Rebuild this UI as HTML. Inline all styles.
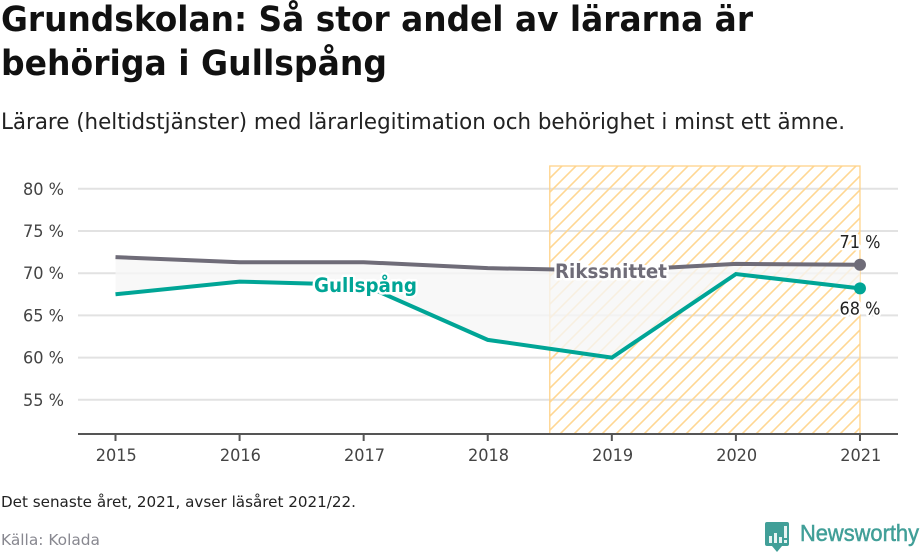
<!DOCTYPE html>
<html lang="sv">
<head>
<meta charset="utf-8">
<title>Grundskolan: Så stor andel av lärarna är behöriga i Gullspång</title>
<style>
html,body{margin:0;padding:0;background:#fff;}
svg{display:block;font-family:"DejaVu Sans","Liberation Sans",sans-serif;}
</style>
</head>
<body>
<svg id="chart" width="920" height="552" viewBox="0 0 920 552" xmlns="http://www.w3.org/2000/svg">
  <defs>
    <pattern id="hatch" patternUnits="userSpaceOnUse" width="14" height="14">
      <path d="M-2,2 L2,-2 M0,14 L14,0 M12,16 L16,12" stroke="#ffd793" stroke-width="1.6" fill="none"/>
    </pattern>
  </defs>
  <text x="1" y="31" font-size="35" font-weight="700" fill="#111" textLength="752" lengthAdjust="spacingAndGlyphs">Grundskolan: Så stor andel av lärarna är</text>
  <text x="1" y="75" font-size="35" font-weight="700" fill="#111" textLength="386" lengthAdjust="spacingAndGlyphs">behöriga i Gullspång</text>
  <text x="1" y="129" font-size="22.5" fill="#222" textLength="844" lengthAdjust="spacingAndGlyphs">Lärare (heltidstjänster) med lärarlegitimation och behörighet i minst ett ämne.</text>
  <g id="plot"></g>
  <text x="1" y="507" font-size="15.5" fill="#222" textLength="355" lengthAdjust="spacingAndGlyphs">Det senaste året, 2021, avser läsåret 2021/22.</text>
  <text x="1" y="545" font-size="15.5" fill="#888890" textLength="99" lengthAdjust="spacingAndGlyphs">Källa: Kolada</text>
  <g>
    <path d="M767,522 H787 Q789,522 789,524 V544 Q789,546 787,546 H782 L777,552 L772,546 H767 Q765,546 765,544 V524 Q765,522 767,522 Z" fill="#419f98"/>
    <rect x="769" y="536" width="3" height="7" fill="#e8f4f3"/>
    <rect x="774" y="533" width="3" height="10" fill="#e8f4f3"/>
    <rect x="779" y="537" width="3" height="6" fill="#e8f4f3"/>
    <rect x="784" y="526" width="3" height="12" fill="#e8f4f3"/>
    <rect x="784" y="540" width="3" height="3" fill="#e8f4f3"/>
    <text x="800" y="541" font-size="23" fill="#419f98" stroke="#419f98" stroke-width="0.5" textLength="119" lengthAdjust="spacingAndGlyphs" style="font-family:'Liberation Sans',sans-serif">Newsworthy</text>
  </g>
</svg>
<script>
const years = [2015, 2016, 2017, 2018, 2019, 2020, 2021];
const riksValues = [71.9, 71.3, 71.3, 70.6, 70.3, 71.1, 71.0];
const gullspangValues = [67.5, 69.0, 68.6, 62.1, 60.0, 69.9, 68.2];
const yTicks = [55, 60, 65, 70, 75, 80];
const hatchStartYear = 2018.5;
const hatchEndYear = 2021;
const riksName = 'Rikssnittet';
const gullspangName = 'Gullspång';

const NS = 'http://www.w3.org/2000/svg';
const plot = document.getElementById('plot');
const GRAY = '#6f6c78';
const TEAL = '#00a596';
const AXIS_Y = 434;
const TOP_Y = 166;

function xScale(year) {
  return 115.5 + (year - 2015) * 124.08;
}
function yScale(value) {
  return 273.2 - (value - 70) * 8.44;
}
function make(tag, attrs, text) {
  const el = document.createElementNS(NS, tag);
  for (const key in attrs) el.setAttribute(key, attrs[key]);
  if (text !== undefined) el.textContent = text;
  plot.appendChild(el);
  return el;
}
function linePoints(values) {
  return values.map((v, i) => xScale(years[i]) + ',' + yScale(v));
}

// Gridlines and y-axis labels
yTicks.forEach(t => {
  const grid = make('line', {x1: 78, x2: 898, y1: yScale(t), y2: yScale(t), stroke: '#e2e2e2', 'stroke-width': 2});
  
  
  const label = make('text', {x: 64, y: yScale(t) + 6, 'text-anchor': 'end', 'font-size': 17, fill: '#444', textLength: 41, lengthAdjust: 'spacingAndGlyphs'}, t + ' %');
  
  
});

// Hatched period band
const band = make('rect', {
  x: xScale(hatchStartYear), y: TOP_Y,
  width: xScale(hatchEndYear) - xScale(hatchStartYear), height: AXIS_Y - TOP_Y,
  fill: 'url(#hatch)', stroke: '#ffd38a', 'stroke-width': 1.3
});



// Area between the series
const areaPts = linePoints(riksValues).concat(linePoints(gullspangValues).reverse()).join(' ');
const area = make('polygon', {points: areaPts, fill: '#f6f6f6', 'fill-opacity': 0.78});



// X axis
const axis = make('line', {x1: 78, x2: 898, y1: AXIS_Y, y2: AXIS_Y, stroke: '#555', 'stroke-width': 2});


years.forEach(y => {
  const tick = make('line', {x1: xScale(y), x2: xScale(y), y1: AXIS_Y, y2: AXIS_Y + 7, stroke: '#555', 'stroke-width': 2});
  
  
  const label = make('text', {x: xScale(y) + 0.8, y: AXIS_Y + 27, 'text-anchor': 'middle', 'font-size': 17, fill: '#444', textLength: 41, lengthAdjust: 'spacingAndGlyphs'}, String(y));
  
  
});

// Series lines
const riksLine = make('polyline', {points: linePoints(riksValues).join(' '), fill: 'none', stroke: GRAY, 'stroke-width': 4});


const gullLine = make('polyline', {points: linePoints(gullspangValues).join(' '), fill: 'none', stroke: TEAL, 'stroke-width': 4});



// End points
const lastYear = years[years.length - 1];
const riksLast = riksValues[riksValues.length - 1];
const gullLast = gullspangValues[gullspangValues.length - 1];
const riksDot = make('circle', {cx: xScale(lastYear), cy: yScale(riksLast), r: 6, fill: GRAY});


const gullDot = make('circle', {cx: xScale(lastYear), cy: yScale(gullLast), r: 6, fill: TEAL});



const haloAttrs = {stroke: '#fff', 'stroke-width': 5, 'paint-order': 'stroke', 'stroke-linejoin': 'round'};

// End value labels
const riksValueLabel = make('text', Object.assign({x: xScale(lastYear), y: yScale(riksLast) - 17, 'text-anchor': 'middle', 'font-size': 17.5, fill: '#222', textLength: 41, lengthAdjust: 'spacingAndGlyphs'}, haloAttrs), Math.round(riksLast) + ' %');


const gullValueLabel = make('text', Object.assign({x: xScale(lastYear), y: yScale(gullLast) + 26, 'text-anchor': 'middle', 'font-size': 17.5, fill: '#222', textLength: 41, lengthAdjust: 'spacingAndGlyphs'}, haloAttrs), Math.round(gullLast) + ' %');



// Series name labels
const riksLabel = make('text', Object.assign({x: 555, y: 278, 'font-size': 19.5, 'font-weight': 700, fill: GRAY, textLength: 112, lengthAdjust: 'spacingAndGlyphs'}, haloAttrs), riksName);


const gullLabel = make('text', Object.assign({x: 314, y: 292, 'font-size': 19.5, 'font-weight': 700, fill: TEAL, textLength: 103, lengthAdjust: 'spacingAndGlyphs'}, haloAttrs), gullspangName);


</script>
</body>
</html>
